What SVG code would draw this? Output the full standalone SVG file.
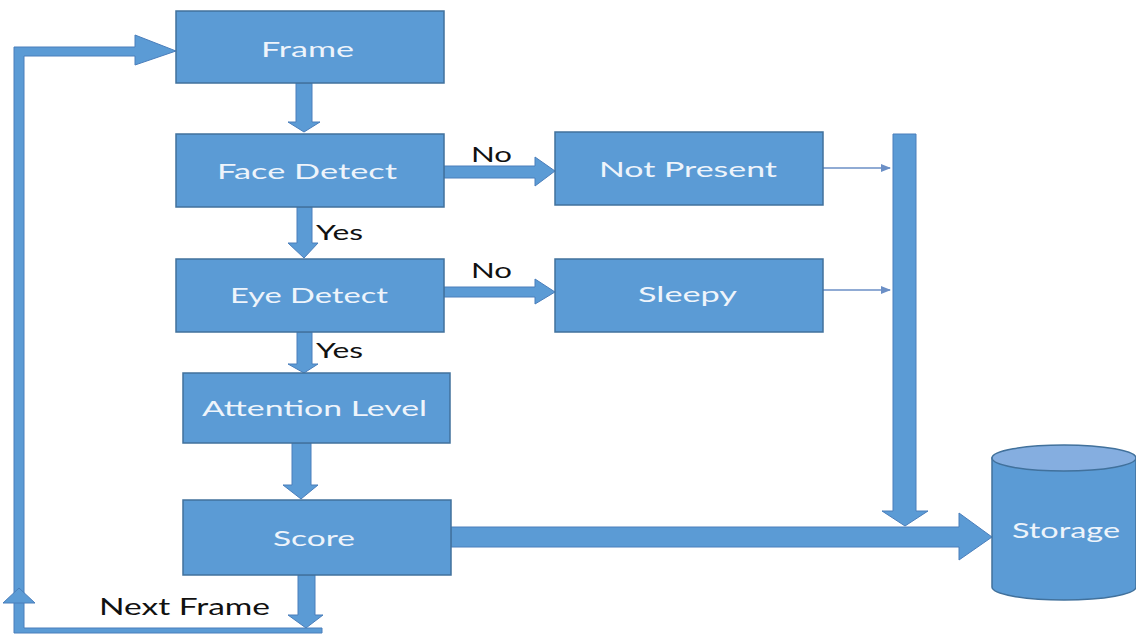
<svg xmlns="http://www.w3.org/2000/svg" width="1136" height="634" viewBox="0 0 1136 634">
<style>
.box{fill:#5b9bd5;stroke:#41719c;stroke-width:1.5}
.arr{fill:#5b9bd5;stroke:#4a7ebb;stroke-width:1}
.t{font-family:Lato,"Open Sans","Liberation Sans",sans-serif;font-size:22px;fill:#eef4fb;text-anchor:start}
.lb{font-family:Lato,"Open Sans","Liberation Sans",sans-serif;font-size:22px;fill:#111111}
.thin{stroke:#6b8fc6;stroke-width:1.5;fill:none}
</style>
<defs>
<marker id="ah" markerWidth="10" markerHeight="8" refX="9" refY="4" orient="auto" markerUnits="userSpaceOnUse">
<path d="M0,0 L10,4 L0,8 Z" fill="#6b8fc6"/>
</marker>
</defs>
<rect width="1136" height="634" fill="#ffffff"/>
<g id="connectors">
<polygon class="arr" points="296,83 312,83 312,122 320,122 304,132 288,122 296,122"/>
<polygon class="arr" points="297,207 312,207 312,243 318,243 304,258 288,243 297,243"/>
<polygon class="arr" points="297,332 312,332 312,364 318,364 304,373 288,364 297,364"/>
<polygon class="arr" points="292,443 311,443 311,485 318,485 301,499 283,485 292,485"/>
<polygon class="arr" points="298,575 315,575 315,615 323,615 306,628 288,615 298,615"/>
<polygon class="arr" points="444,166 535,166 535,157 555,171 535,186 535,178 444,178"/>
<polygon class="arr" points="444,287 535,287 535,279 555,292 535,304 535,297 444,297"/>
<polygon class="arr" points="893,134 916,134 916,511 928,511 905,526 882,511 893,511"/>
<polygon class="arr" points="451,527 959,527 959,513 992,537 959,560 959,547 451,547"/>
<line class="thin" x1="823" y1="168" x2="890" y2="168" marker-end="url(#ah)"/>
<line class="thin" x1="823" y1="290" x2="890" y2="290" marker-end="url(#ah)"/>
<polygon class="arr" points="14,633 14,47 135,47 135,35 176,51 135,65 135,56 24,56 24,628 322,628 322,633"/>
<polygon class="arr" points="3,603 19,588 35,603"/>
<text class="lb" x="471" y="162" textLength="41" lengthAdjust="spacingAndGlyphs">No</text>
<text class="lb" x="471" y="278" textLength="41" lengthAdjust="spacingAndGlyphs">No</text>
<text class="lb" x="316" y="240" textLength="47" lengthAdjust="spacingAndGlyphs">Yes</text>
<text class="lb" x="316" y="358" textLength="47" lengthAdjust="spacingAndGlyphs">Yes</text>
<text class="lb" x="99" y="615" textLength="171" lengthAdjust="spacingAndGlyphs" style="font-size:23px">Next Frame</text>
</g>
<g id="frame">
<rect class="box" x="176" y="11" width="268" height="72"/>
<text class="t" x="261" y="57" textLength="93" lengthAdjust="spacingAndGlyphs">Frame</text>
</g>
<g id="face-detect">
<rect class="box" x="176" y="134" width="268" height="73"/>
<text class="t" x="217" y="179" textLength="180" lengthAdjust="spacingAndGlyphs">Face Detect</text>
</g>
<g id="not-present">
<rect class="box" x="555" y="132" width="268" height="73"/>
<text class="t" x="599" y="177" textLength="178" lengthAdjust="spacingAndGlyphs">Not Present</text>
</g>
<g id="eye-detect">
<rect class="box" x="176" y="259" width="268" height="73"/>
<text class="t" x="230" y="303" textLength="158" lengthAdjust="spacingAndGlyphs">Eye Detect</text>
</g>
<g id="sleepy">
<rect class="box" x="555" y="259" width="268" height="73"/>
<text class="t" x="638" y="302" textLength="99" lengthAdjust="spacingAndGlyphs">Sleepy</text>
</g>
<g id="attention-level">
<rect class="box" x="183" y="373" width="267" height="70"/>
<text class="t" x="202" y="416" textLength="225" lengthAdjust="spacingAndGlyphs">Attention Level</text>
</g>
<g id="score">
<rect class="box" x="183" y="500" width="268" height="75"/>
<text class="t" x="273" y="546" textLength="82" lengthAdjust="spacingAndGlyphs">Score</text>
</g>
<g id="storage">
<path class="box" d="M992,458 L992,587 A72,13 0 0 0 1136,587 L1136,458 Z"/>
<ellipse cx="1064" cy="458" rx="72" ry="13" fill="#85aee0" stroke="#41719c" stroke-width="1.5"/>
<text class="t" x="1012" y="538" textLength="108" lengthAdjust="spacingAndGlyphs">Storage</text>
</g>
</svg>
